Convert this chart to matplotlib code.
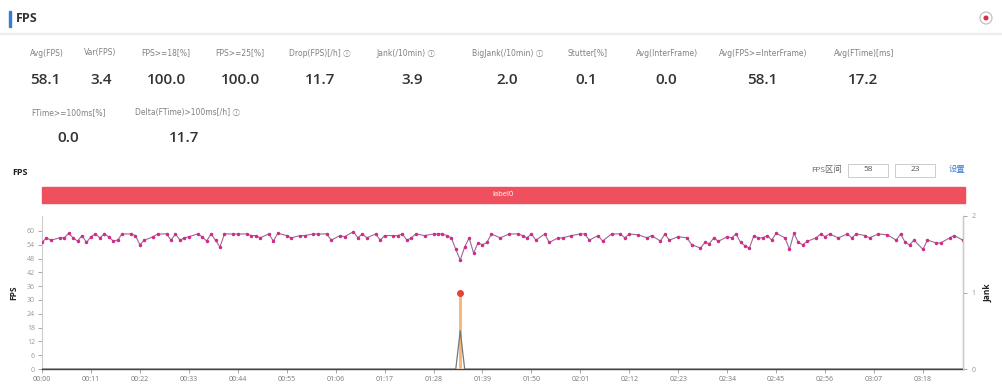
import matplotlib
matplotlib.use("Agg")
import matplotlib.pyplot as plt
from matplotlib.patches import Rectangle, Circle

plt.rcParams['font.family'] = ['Open Sans', 'Noto Sans CJK SC', 'DejaVu Sans']

# --- summary metrics ---
row1_labels = ['Avg(FPS)', 'Var(FPS)', 'FPS>=18[%]', 'FPS>=25[%]', 'Drop(FPS)[/h]',
               'Jank(/10min)', 'BigJank(/10min)', 'Stutter[%]', 'Avg(InterFrame)',
               'Avg(FPS>=InterFrame)', 'Avg(FTime)[ms]']
row1_values = ['58.1', '3.4', '100.0', '100.0', '11.7', '3.9', '2.0', '0.1', '0.0', '58.1', '17.2']
row1_help = [False, False, False, False, True, True, True, False, False, False, False]
row2_labels = ['FTime>=100ms[%]', 'Delta(FTime)>100ms[/h]']
row2_values = ['0.0', '11.7']
row2_help = [False, True]

# --- FPS series (seconds, fps) ---
fps_t = [0, 1, 2, 4, 5, 6, 7, 8, 9, 10, 11, 12, 13, 14, 15, 16, 17, 18, 20, 21, 22, 23, 25,
         26, 28, 29, 30, 31, 32, 33, 35, 36, 37, 38, 39, 40, 41, 43, 44, 46, 47, 48, 49, 51,
         52, 53, 55, 56, 58, 59, 61, 62, 64, 65, 67, 68, 70, 71, 72, 73, 75, 76, 77, 79, 80,
         81, 82, 83, 84, 86, 88, 89, 90, 91, 92, 93, 94, 95, 96, 97, 98, 99, 100, 101, 103,
         105, 107, 108, 109, 110, 111, 113, 114, 116, 117, 119, 121, 122, 123, 125, 126, 128,
         130, 131, 132, 134, 136, 137, 139, 140, 141, 143, 145, 146, 148, 149, 150, 151, 152,
         154, 155, 156, 157, 158, 159, 160, 161, 162, 163, 164, 165, 167, 168, 169, 170, 171,
         172, 174, 175, 176, 177, 179, 181, 182, 183, 185, 186, 188, 190, 192, 193, 194, 195,
         196, 198, 199, 201, 202, 204, 205, 207]
fps_v = [55, 57, 56, 57, 57, 59, 57, 55.6, 58, 55, 57.5, 58.7, 57, 58.7, 57.5, 55.6, 56, 58.7,
         58.7, 58, 54, 56, 57.5, 58.7, 58.7, 56, 58.7, 56, 57, 57.5, 58.7, 57.5, 55.6, 58.7, 56,
         53, 58.7, 58.7, 58.7, 58.7, 58, 58, 57, 58.7, 55.6, 59, 58, 57, 58, 58, 58.7, 58.7,
         58.7, 56, 58, 57.5, 59.7, 57, 58.7, 57, 58.7, 56, 58, 58, 58, 58.7, 56, 57, 58.7, 58,
         58.7, 58.7, 58.7, 58, 57, 52, 47.4, 53, 57, 50.4, 54.8, 54, 55, 58.7, 57, 58.7, 58.7,
         58, 57, 58.7, 56, 58.7, 55, 57, 57, 58, 58.7, 58.7, 56, 58, 55.6, 58.7, 58.7, 57, 58.7,
         58.3, 57, 58, 55.6, 58.7, 56, 57.5, 57, 54, 52.6, 55, 54.5, 57, 55.5, 57.5, 57, 58.7,
         55, 53.6, 52.6, 58, 57, 57, 58, 56, 59, 57, 52, 59, 55, 54, 55.5, 57, 58.7, 57.5, 58.7,
         57, 58.7, 57, 58.7, 58, 57, 58.7, 58.3, 56, 58.7, 55, 54, 56, 52, 56, 54.8, 54.8, 57,
         58, 56]

# --- jank series (right axis) ---
bigjank_t = [0, 93, 94, 95, 207]
bigjank_v = [0, 0, 0.5, 0, 0]
jank_t = [94]
jank_v = [1]

xtick_pos = list(range(0, 199, 11))
xtick_labels = ['00:00', '00:11', '00:22', '00:33', '00:44', '00:55', '01:06', '01:17', '01:28',
                '01:39', '01:50', '02:01', '02:12', '02:23', '02:34', '02:45', '02:56', '03:07',
                '03:18']
fps_ticks = list(range(0, 61, 6))

W, H = 1002, 384
fig = plt.figure(figsize=(W / 100, H / 100), dpi=100)


def fx(x):
    return x / W


def fy(y):
    return 1 - y / H


# header
fig.patches.append(Rectangle((fx(9), fy(27)), 2 / W, 16 / H, transform=fig.transFigure,
                             color='#3a7bd5', figure=fig))
fig.text(fx(16), fy(18), 'FPS', fontsize=9, fontweight='bold', color='#333333', va='center')
fig.patches.append(Rectangle((fx(0), fy(34)), 1, 1 / H, transform=fig.transFigure,
                             color='#eeeeee', figure=fig))
# round icon top right (pixel coords, origin bottom-left)
fig.patches.append(Circle((986, H - 18), 6, transform=None, fill=False,
                          edgecolor='#bbbbbb', lw=0.8, figure=fig))
fig.patches.append(Circle((986, H - 18), 1.8, transform=None, color='#d9304a', figure=fig))

label_font = ['DejaVu Sans', 'Noto Sans CJK SC']

row1_x = [47, 100, 166, 240, 320, 406, 508, 588, 667, 763, 864]
row1_vx = [45, 101, 167, 241, 320, 412, 507, 586, 666, 762, 863]
for lab, val, hlp, x, vx in zip(row1_labels, row1_values, row1_help, row1_x, row1_vx):
    fig.text(fx(x), fy(53), lab + (' \u24d8' if hlp else ''), fontsize=5.5, color='#808080',
             ha='center', va='center', family=label_font)
    fig.text(fx(vx), fy(80), val, fontsize=11, fontweight='semibold', color='#333333',
             ha='center', va='center')

row2_x = [68, 188]
row2_vx = [68, 184]
for lab, val, hlp, x, vx in zip(row2_labels, row2_values, row2_help, row2_x, row2_vx):
    fig.text(fx(x), fy(113), lab + (' \u24d8' if hlp else ''), fontsize=5.5, color='#808080',
             ha='center', va='center', family=label_font)
    fig.text(fx(vx), fy(138), val, fontsize=11, fontweight='semibold', color='#333333',
             ha='center', va='center')

# chart sub-header
fig.text(fx(12), fy(172), 'FPS', fontsize=6.5, fontweight='bold', color='#222222', va='center')
fig.text(fx(842), fy(170), 'FPS区间', fontsize=6, color='#666666', ha='right', va='center')
for bx, txt in [(848, '58'), (895, '23')]:
    fig.patches.append(Rectangle((fx(bx), fy(177)), 40 / W, 13 / H, transform=fig.transFigure,
                                 fill=False, edgecolor='#cccccc', lw=0.7, figure=fig))
    fig.text(fx(bx + 20), fy(170), txt, fontsize=6, color='#555555', ha='center', va='center')
fig.text(fx(957), fy(170), '设置', fontsize=6, color='#3a7bd5', ha='center', va='center')

# red label band
fig.patches.append(Rectangle((fx(42), fy(203)), (965 - 42) / W, 16 / H,
                             transform=fig.transFigure, color='#f0505e', figure=fig))
fig.text(fx(503), fy(195), 'label0', fontsize=5.5, color='white', ha='center', va='center')

# main chart
ax = fig.add_axes([fx(42), 15 / H, (963 - 42) / W, (369 - 216) / H])
ax.plot(fps_t, fps_v, color='#9a6a92', lw=0.8, marker='o', markersize=1.5,
        markerfacecolor='#d22a8a', markeredgecolor='#d22a8a', zorder=3)
ax.set_xlim(0, 207)
ax.set_ylim(0, 66.5)
ax.set_yticks(fps_ticks)
ax.set_xticks(xtick_pos)
ax.set_xticklabels(xtick_labels)
ax.set_ylabel('FPS', fontsize=6, fontweight='bold', color='#222222', labelpad=6)
ax.tick_params(axis='both', labelsize=5, colors='#999999', length=3, width=0.6, pad=2)
ax.tick_params(axis='x', labelcolor='#777777')
ax.spines['top'].set_visible(False)
ax.spines['left'].set_color('#cccccc')
ax.spines['bottom'].set_color('#444444')
ax.spines['bottom'].set_linewidth(1.0)
ax.patch.set_alpha(0)

ax2 = ax.twinx()
ax2.bar(jank_t, jank_v, width=0.7, color='#f7b878', zorder=1)
ax2.plot(jank_t, jank_v, 'o', color='#e8413c', markersize=4, zorder=4)
ax2.plot(bigjank_t, bigjank_v, color='#777777', lw=0.9, zorder=2)
ax2.set_ylim(0, 2)
ax2.set_yticks([0, 1, 2])
ax2.set_ylabel('Jank', fontsize=6, fontweight='bold', color='#222222', labelpad=6)
ax2.tick_params(axis='y', labelsize=5, colors='#999999', length=3, width=0.6, pad=3)
ax2.spines['top'].set_visible(False)
ax2.spines['left'].set_visible(False)
ax2.spines['bottom'].set_visible(False)
ax2.spines['right'].set_color('#cccccc')

fig.savefig('out.png', dpi=100)
